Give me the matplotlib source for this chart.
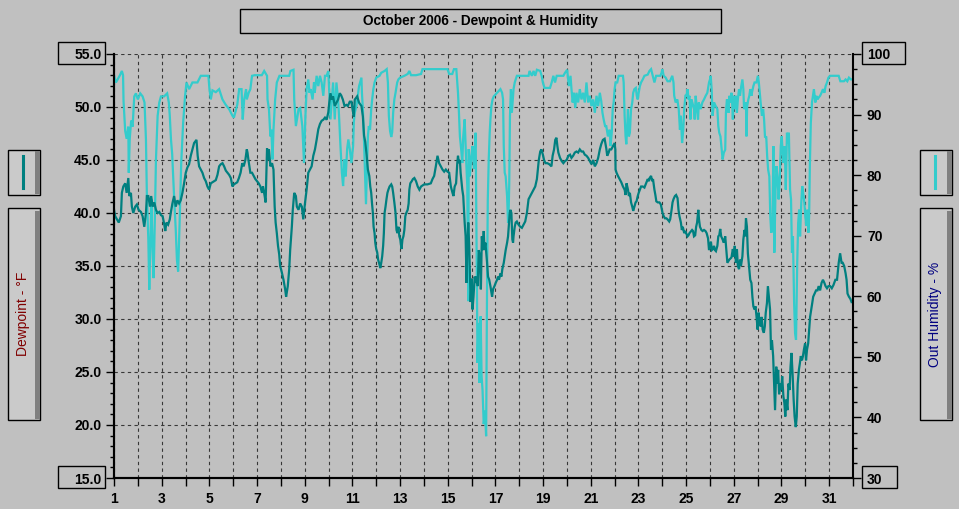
import matplotlib
matplotlib.use("Agg")
import matplotlib.pyplot as plt
from matplotlib.patches import Rectangle
from matplotlib.lines import Line2D
from matplotlib.ticker import MultipleLocator, FormatStrFormatter

W, H = 959, 509
BG = "#c0c0c0"
DEW = "#008080"
HUM = "#33cccc"

# Dewpoint (deg F), x = day of month
dp_day = [
    1.00, 1.05, 1.20, 1.29, 1.33, 1.39, 1.47, 1.53, 1.60, 1.64, 1.71, 1.75, 1.81, 1.89, 1.96,
    2.03, 2.13, 2.20, 2.27, 2.34, 2.38, 2.44, 2.51, 2.56, 2.62, 2.69, 2.76, 2.83, 2.90, 2.97,
    3.04, 3.11, 3.15, 3.20, 3.27, 3.34, 3.38, 3.45, 3.52, 3.59, 3.66, 3.73, 3.80, 3.87, 3.94,
    4.01, 4.08, 4.15, 4.22, 4.29, 4.36, 4.46, 4.51, 4.57, 4.64, 4.71, 4.78, 4.85, 4.92, 4.99,
    5.06, 5.20, 5.27, 5.34, 5.41, 5.48, 5.55, 5.62, 5.69, 5.76, 5.83, 5.90, 5.97,
    6.03, 6.17, 6.24, 6.31, 6.38, 6.44, 6.51, 6.57, 6.60, 6.64, 6.72, 6.79, 6.86, 6.93,
    7.00, 7.07, 7.14, 7.21, 7.25, 7.32, 7.36, 7.42, 7.46, 7.50, 7.56, 7.63, 7.69, 7.74, 7.78,
    7.83, 7.88, 7.93, 7.97, 8.04, 8.11, 8.18, 8.22, 8.29, 8.35, 8.39, 8.46, 8.50, 8.56, 8.63,
    8.67, 8.74, 8.81, 8.88, 8.94, 9.01, 9.08, 9.15, 9.22, 9.29, 9.36, 9.43, 9.50, 9.57, 9.64,
    9.71, 9.78, 9.85, 9.92, 9.99, 10.03, 10.08, 10.14, 10.19, 10.26, 10.33, 10.40, 10.47,
    10.53, 10.60, 10.67, 10.75, 10.81, 10.89, 10.96, 11.00, 11.06, 11.10, 11.20, 11.28, 11.38,
    11.44, 11.49, 11.54, 11.60, 11.65, 11.71, 11.75, 11.79, 11.82, 11.86, 11.89, 11.93, 11.96,
    12.00, 12.04, 12.08, 12.13, 12.17, 12.21, 12.25, 12.29, 12.32, 12.35, 12.39, 12.43, 12.47,
    12.51, 12.56, 12.63, 12.67, 12.71, 12.76, 12.81, 12.85, 12.89, 12.93, 12.97, 13.01, 13.06,
    13.10, 13.14, 13.18, 13.22, 13.26, 13.32, 13.36, 13.39, 13.43, 13.49, 13.54, 13.60, 13.67,
    13.74, 13.81, 13.88, 14.01, 14.15, 14.29, 14.36, 14.43, 14.50, 14.57, 14.64, 14.71, 14.78,
    14.85, 14.92, 14.99, 15.06, 15.13, 15.20, 15.24, 15.29, 15.35, 15.40, 15.43, 15.47, 15.51,
    15.54, 15.61, 15.65, 15.68, 15.71, 15.75, 15.79, 15.82, 15.86, 15.90, 15.96, 16.00, 16.04,
    16.08, 16.13, 16.17, 16.21, 16.26, 16.30, 16.35, 16.39, 16.43, 16.47, 16.51, 16.54, 16.58,
    16.63, 16.65, 16.69, 16.74, 16.79, 16.86, 16.90, 16.96, 17.01, 17.07, 17.11, 17.15, 17.21,
    17.25, 17.29, 17.35, 17.39, 17.43, 17.49, 17.53, 17.57, 17.60, 17.63, 17.67, 17.71, 17.74,
    17.76, 17.81, 17.85, 17.90, 17.97, 18.04, 18.11, 18.18, 18.25, 18.32, 18.39, 18.46, 18.53,
    18.60, 18.67, 18.74, 18.78, 18.82, 18.88, 18.93, 18.99, 19.04, 19.10, 19.18, 19.26, 19.35,
    19.40, 19.46, 19.51, 19.56, 19.60, 19.64, 19.71, 19.78, 19.85, 19.92, 19.99, 20.06, 20.13,
    20.19, 20.26, 20.33, 20.40, 20.47, 20.54, 20.61, 20.68, 20.75, 20.82, 20.89, 20.96, 21.03,
    21.10, 21.17, 21.24, 21.31, 21.38, 21.44, 21.51, 21.58, 21.65, 21.69, 21.75, 21.79, 21.86,
    21.93, 22.00, 22.03, 22.04, 22.08, 22.14, 22.21, 22.28, 22.35, 22.42, 22.46, 22.50, 22.56,
    22.60, 22.64, 22.69, 22.74, 22.78, 22.83, 22.88, 22.92, 22.97, 23.01, 23.06, 23.11, 23.18,
    23.25, 23.32, 23.39, 23.43, 23.47, 23.53, 23.57, 23.61, 23.67, 23.71, 23.75, 23.81, 23.88,
    23.94, 24.01, 24.06, 24.11, 24.17, 24.22, 24.29, 24.33, 24.39, 24.43, 24.47, 24.53, 24.58,
    24.64, 24.68, 24.72, 24.78, 24.82, 24.86, 24.92, 24.96, 25.00, 25.06, 25.10, 25.14, 25.21,
    25.25, 25.29, 25.33, 25.38, 25.42, 25.46, 25.51, 25.54, 25.58, 25.64, 25.69, 25.75, 25.81,
    25.86, 25.92, 25.96, 26.00, 26.04, 26.08, 26.13, 26.17, 26.21, 26.25, 26.31, 26.35, 26.39,
    26.43, 26.47, 26.53, 26.58, 26.64, 26.73, 26.81, 26.90, 26.96, 27.00, 27.04, 27.09, 27.13,
    27.17, 27.22, 27.26, 27.30, 27.36, 27.40, 27.45, 27.48, 27.51, 27.55, 27.59, 27.65, 27.69,
    27.74, 27.78, 27.82, 27.87, 27.91, 27.95, 28.00, 28.04, 28.08, 28.13, 28.17, 28.21, 28.26,
    28.30, 28.34, 28.39, 28.43, 28.47, 28.52, 28.56, 28.60, 28.65, 28.69, 28.73, 28.78, 28.82,
    28.86, 28.90, 28.95, 28.99, 29.03, 29.08, 29.12, 29.16, 29.20, 29.25, 29.29, 29.34, 29.38,
    29.42, 29.47, 29.51, 29.55, 29.60, 29.64, 29.68, 29.73, 29.77, 29.81, 29.86, 29.90, 29.94,
    29.99, 30.03, 30.07, 30.12, 30.16, 30.20, 30.25, 30.29, 30.33, 30.39, 30.45, 30.51, 30.56,
    30.62, 30.68, 30.74, 30.80, 30.85, 30.91, 30.97, 31.04, 31.11, 31.18, 31.26, 31.33, 31.40,
    31.46, 31.52, 31.57, 31.63, 31.69, 31.73, 31.77, 31.83, 31.89, 31.94,
]
dp_val = [
    40.3, 39.7, 39.1, 39.7, 41.9, 42.5, 42.8, 41.9, 43.3, 41.6, 41.9, 40.6, 40.0, 40.6, 40.8,
    40.3, 40.1, 39.7, 38.7, 40.0, 41.6, 41.6, 40.6, 41.6, 40.6, 41.0, 40.3, 40.0, 40.1, 39.8,
    39.7, 38.9, 38.3, 39.1, 38.9, 39.4, 40.0, 40.9, 41.6, 40.6, 41.2, 40.9, 41.2, 41.9, 42.8,
    43.8, 44.3, 44.6, 45.4, 46.0, 46.6, 46.9, 45.4, 44.4, 44.1, 43.8, 43.3, 43.0, 42.5, 42.2,
    42.8, 43.0, 43.1, 43.6, 44.4, 44.6, 44.7, 44.4, 44.0, 43.8, 43.6, 43.3, 42.5,
    42.7, 42.9, 43.3, 43.8, 44.7, 44.4, 45.0, 46.0, 45.7, 45.0, 43.8, 43.8, 43.5, 43.2,
    43.0, 42.8, 42.5, 41.9, 42.5, 41.6, 41.0, 46.1, 45.0, 46.0, 44.4, 44.7, 44.1, 40.6, 39.1,
    38.1, 36.9, 36.1, 35.0, 34.4, 33.7, 32.8, 32.1, 33.1, 34.7, 36.5, 38.7, 40.3, 41.9, 41.6,
    40.6, 40.3, 40.9, 40.6, 39.4, 40.9, 42.2, 43.8, 44.1, 44.4, 45.4, 46.0, 46.9, 47.9, 48.4,
    48.7, 48.8, 49.0, 48.8, 49.5, 50.4, 51.3, 50.7, 51.0, 50.1, 50.4, 50.7, 51.3,
    51.1, 50.7, 50.1, 50.2, 50.1, 50.5, 50.5, 49.9, 49.1, 50.7, 51.0, 50.4, 50.1,
    49.1, 47.3, 46.7, 45.4, 44.1, 43.5, 42.5, 41.9, 41.0, 40.0, 38.7, 38.1, 37.2,
    36.6, 36.3, 35.6, 35.2, 34.8, 35.3, 35.9, 36.9, 38.1, 40.0, 40.6, 41.3, 41.9,
    42.2, 42.5, 42.7, 42.5, 41.9, 41.0, 40.0, 38.4, 38.1, 38.7, 37.8, 37.5, 36.6,
    37.5, 37.8, 38.4, 39.7, 40.0, 40.3, 40.9, 42.2, 42.8, 43.0, 43.2, 43.3, 43.0,
    42.5, 42.2, 42.5, 42.7, 42.7, 42.8, 43.2, 43.5, 44.4, 45.4, 44.7, 44.4, 44.1,
    43.9, 44.1, 43.9, 43.8, 42.5, 41.9, 41.6, 42.5, 42.8, 44.7, 45.4, 44.7, 45.0,
    43.8, 42.2, 41.6, 40.3, 39.1, 37.8, 33.4, 36.6, 39.1, 36.9, 31.6, 33.8, 30.9,
    32.1, 34.0, 33.4, 34.0, 33.1, 36.5, 35.9, 32.8, 37.8, 36.5, 38.3, 36.5, 37.2,
    35.9, 35.3, 34.0, 33.7, 33.1, 32.1, 32.8, 33.1, 33.4, 33.7, 34.0, 33.7, 34.3,
    34.0, 34.7, 35.3, 35.9, 36.5, 37.2, 37.8, 39.1, 40.0, 40.3, 40.0, 37.5, 37.2,
    37.8, 38.7, 39.1, 39.2, 38.9, 38.7, 38.6, 38.9, 39.2, 40.0, 41.3, 41.6, 41.9,
    42.2, 42.5, 43.2, 44.1, 45.0, 45.8, 46.0, 45.5, 45.0, 44.7, 44.7, 44.6, 44.4,
    45.4, 46.0, 46.9, 47.1, 46.3, 45.7, 45.2, 44.9, 44.7, 44.9, 45.0, 45.4, 45.5,
    45.2, 45.4, 45.7, 45.8, 45.7, 46.0, 45.8, 45.8, 45.5, 45.4, 45.2, 44.9, 44.6,
    45.0, 44.4, 44.7, 45.2, 46.0, 46.5, 46.9, 47.0, 46.1, 45.4, 45.7, 46.0, 46.0,
    46.3, 46.6, 46.0, 44.1, 43.8, 43.5, 43.2, 42.9, 42.5, 42.2, 41.7, 42.8, 42.2,
    41.6, 41.9, 41.0, 40.6, 40.2, 40.6, 41.0, 41.1, 41.6, 41.9, 42.2, 42.5, 42.5,
    42.4, 42.8, 43.2, 43.0, 43.3, 43.5, 43.0, 43.2, 42.2, 41.7, 41.1, 41.0, 41.0,
    40.8, 40.0, 39.7, 39.5, 39.5, 39.4, 39.2, 39.4, 40.3, 41.0, 41.3, 41.6, 41.7,
    41.4, 40.3, 39.7, 39.1, 38.4, 38.7, 38.1, 38.3, 38.1, 37.8, 37.9, 38.1, 38.3,
    38.4, 38.3, 37.8, 37.9, 38.7, 39.1, 40.3, 39.4, 38.7, 38.4, 38.3, 38.4, 38.3,
    38.1, 37.6, 36.5, 36.9, 37.3, 36.5, 36.6, 36.9, 36.5, 36.4, 36.9, 37.8, 37.9,
    38.5, 37.8, 37.5, 37.2, 37.8, 35.3, 35.6, 35.8, 36.6, 35.9, 36.9, 35.3, 36.6,
    35.0, 34.7, 35.6, 35.0, 35.9, 37.5, 38.4, 37.8, 39.5, 38.7, 36.2, 34.7, 33.7,
    33.4, 32.1, 31.2, 30.9, 31.2, 30.3, 29.0, 30.6, 29.6, 29.3, 30.2, 29.0, 28.7,
    29.3, 30.6, 31.5, 33.1, 32.1, 30.9, 27.1, 28.0, 26.5, 23.9, 21.4, 25.5, 23.9,
    25.2, 22.9, 23.9, 23.3, 24.6, 22.7, 22.1, 20.8, 22.4, 21.4, 23.9, 23.3, 25.5,
    26.8, 24.6, 22.4, 20.8, 19.8, 20.8, 23.9, 25.2, 25.8, 26.5, 26.1, 26.5, 27.1,
    27.7, 26.1, 27.1, 27.7, 29.0, 30.2, 30.9, 31.5, 32.1, 32.4, 32.7, 32.7, 33.1,
    32.7, 33.4, 33.7, 33.4, 33.1, 32.9, 33.1, 33.1, 32.9, 33.2, 33.7, 33.7, 35.3,
    36.2, 35.3, 35.3, 35.0, 34.3, 33.7, 32.4, 32.1, 31.9, 31.6,
]

# Outside humidity (%)
rh_day = [
    1.00, 1.08, 1.25, 1.33, 1.38, 1.40, 1.47, 1.53, 1.60, 1.62, 1.66, 1.72, 1.78, 1.85, 1.92,
    2.00, 2.10, 2.20, 2.28, 2.34, 2.38, 2.44, 2.48, 2.52, 2.57, 2.61, 2.66, 2.71, 2.76, 2.83,
    2.90, 2.97, 3.10, 3.23, 3.30, 3.34, 3.39, 3.44, 3.52, 3.59, 3.64, 3.69, 3.75, 3.82, 3.90,
    3.98, 4.04, 4.15, 4.29, 4.50, 4.64, 4.85, 4.96, 5.00, 5.06, 5.13, 5.27, 5.41, 5.55, 5.69,
    5.83, 5.97, 6.03, 6.17, 6.25, 6.35, 6.40, 6.46, 6.54, 6.57, 6.65, 6.72, 6.79, 6.90, 7.20,
    7.30, 7.42, 7.44, 7.50, 7.56, 7.60, 7.65, 7.69, 7.76, 7.83, 7.94, 8.10, 8.35, 8.40, 8.53,
    8.56, 8.63, 8.70, 8.74, 8.81, 8.90, 8.97, 9.03, 9.08, 9.15, 9.20, 9.25, 9.33, 9.39, 9.42,
    9.50, 9.57, 9.64, 9.71, 9.78, 9.85, 9.92, 9.99, 10.03, 10.08, 10.14, 10.19, 10.26, 10.33,
    10.40, 10.44, 10.50, 10.56, 10.61, 10.67, 10.72, 10.78, 10.83, 10.89, 10.96, 11.03, 11.06,
    11.10, 11.17, 11.28, 11.38, 11.40, 11.44, 11.49, 11.53, 11.57, 11.61, 11.65, 11.69, 11.74,
    11.79, 11.83, 11.88, 11.93, 12.00, 12.14, 12.21, 12.35, 12.44, 12.49, 12.53, 12.58, 12.63,
    12.67, 12.71, 12.76, 12.81, 12.88, 12.93, 13.00, 13.18, 13.32, 13.39, 13.46, 13.67, 13.88,
    13.94, 14.57, 14.99, 15.06, 15.19, 15.26, 15.36, 15.43, 15.47, 15.51, 15.57, 15.61, 15.65,
    15.71, 15.76, 15.82, 15.86, 15.88, 15.93, 15.99, 16.04, 16.10, 16.17, 16.21, 16.25, 16.29,
    16.33, 16.38, 16.42, 16.46, 16.51, 16.56, 16.61, 16.63, 16.65, 16.68, 16.72, 16.76, 16.79,
    16.83, 16.88, 16.93, 17.07, 17.21, 17.28, 17.32, 17.35, 17.39, 17.43, 17.49, 17.53, 17.56,
    17.58, 17.61, 17.65, 17.69, 17.74, 17.76, 17.81, 17.85, 17.90, 18.18, 18.39, 18.43, 18.53,
    18.60, 18.67, 18.74, 18.88, 18.94, 18.99, 19.06, 19.29, 19.36, 19.43, 19.50, 19.57, 19.85,
    19.92, 20.01, 20.08, 20.15, 20.19, 20.24, 20.29, 20.35, 20.40, 20.47, 20.54, 20.61, 20.68,
    20.75, 20.82, 20.89, 20.96, 21.03, 21.10, 21.17, 21.24, 21.31, 21.38, 21.44, 21.49, 21.54,
    21.60, 21.65, 21.72, 21.79, 21.83, 21.88, 21.92, 21.96, 22.00, 22.04, 22.11, 22.17, 22.28,
    22.35, 22.38, 22.42, 22.46, 22.49, 22.53, 22.56, 22.60, 22.64, 22.69, 22.74, 22.78, 22.83,
    22.89, 22.93, 22.97, 23.01, 23.06, 23.11, 23.18, 23.25, 23.39, 23.46, 23.53, 23.60, 23.67,
    23.74, 23.92, 23.97, 24.00, 24.06, 24.14, 24.22, 24.32, 24.42, 24.47, 24.50, 24.56, 24.63,
    24.69, 24.74, 24.78, 24.83, 24.88, 24.92, 24.97, 25.01, 25.06, 25.10, 25.14, 25.18, 25.22,
    25.26, 25.33, 25.36, 25.40, 25.44, 25.50, 25.53, 25.61, 25.68, 25.75, 25.82, 25.89, 25.96,
    26.00, 26.03, 26.07, 26.11, 26.17, 26.24, 26.31, 26.35, 26.39, 26.44, 26.49, 26.53, 26.58,
    26.64, 26.67, 26.71, 26.75, 26.78, 26.81, 26.86, 26.90, 26.93, 26.96, 27.00, 27.04, 27.09,
    27.13, 27.17, 27.22, 27.26, 27.30, 27.36, 27.40, 27.43, 27.48, 27.51, 27.53, 27.56, 27.61,
    27.65, 27.69, 27.74, 27.76, 27.82, 27.87, 27.95, 28.01, 28.05, 28.10, 28.14, 28.18, 28.23,
    28.27, 28.31, 28.36, 28.40, 28.44, 28.49, 28.53, 28.57, 28.62, 28.66, 28.70, 28.75, 28.79,
    28.83, 28.88, 28.92, 28.97, 29.01, 29.05, 29.09, 29.14, 29.18, 29.23, 29.27, 29.31, 29.36,
    29.40, 29.44, 29.48, 29.53, 29.57, 29.61, 29.66, 29.70, 29.74, 29.78, 29.83, 29.87, 29.91,
    29.96, 30.00, 30.04, 30.09, 30.13, 30.16, 30.19, 30.23, 30.28, 30.32, 30.36, 30.42, 30.46,
    30.51, 30.56, 30.62, 30.68, 30.74, 30.80, 30.85, 30.91, 30.97, 31.04, 31.40, 31.47, 31.62,
    31.69, 31.76, 31.83, 31.91, 31.95,
]
rh_val = [
    96.5, 95.3, 96.5, 97.2, 96.5, 92.2, 87.3, 86.0, 88.0, 80.4, 86.0, 89.0, 88.0, 93.0, 93.5,
    92.5, 93.5, 93.0, 92.0, 85.9, 76.5, 69.4, 61.1, 68.0, 76.0, 69.0, 63.0, 72.0, 82.6, 89.8,
    92.0, 93.0, 93.0, 93.5, 92.0, 89.8, 85.9, 83.5, 76.5, 71.0, 66.0, 64.1, 71.8, 82.0, 88.6,
    93.0, 95.3, 94.2, 95.3, 95.3, 96.4, 96.4, 96.4, 94.4, 92.5, 94.0, 93.7, 94.2, 92.5, 91.6,
    90.9, 89.8, 89.5, 91.6, 94.2, 94.2, 89.2, 92.5, 94.2, 92.5, 93.6, 94.2, 96.4, 96.5, 96.5,
    97.2, 96.4, 92.5, 90.9, 86.4, 87.5, 82.6, 87.5, 92.5, 95.3, 96.4, 96.4, 96.4, 97.2, 97.4,
    92.5, 88.1, 89.8, 90.9, 91.1, 88.1, 82.0, 89.8, 94.2, 95.8, 93.6, 94.2, 92.5, 95.3, 93.6,
    96.4, 94.7, 96.4, 95.3, 93.1, 96.4, 96.4, 97.2, 93.6, 89.2, 92.5, 95.3, 89.2, 95.3,
    92.5, 89.8, 84.8, 80.4, 78.2, 82.6, 79.8, 84.3, 85.9, 84.3, 82.0, 84.8, 88.7,
    90.3, 91.4, 94.7, 96.1, 93.6, 90.9, 85.4, 80.4, 75.2, 81.0, 86.4, 88.1, 87.5,
    90.9, 92.5, 94.2, 95.3, 96.1, 96.4, 96.9, 97.2, 97.5, 95.3, 89.8, 87.3, 86.3,
    87.1, 90.3, 92.5, 93.6, 95.3, 95.8, 96.1, 96.4, 96.7, 97.2, 96.5, 96.5, 96.7,
    97.5, 97.5, 97.5, 96.7, 96.7, 97.5, 97.5, 93.6, 90.3, 86.4, 84.0, 82.0, 86.4,
    89.2, 83.7, 78.2, 59.2, 84.3, 79.8, 83.2, 84.8, 81.0, 87.0, 67.7, 49.0, 55.6,
    45.7, 56.7, 46.8, 44.5, 38.9, 41.1, 36.9, 50.0, 62.2, 76.0, 82.6, 87.0, 89.2,
    91.4, 92.5, 93.0, 93.6, 94.2, 93.6, 92.5, 84.8, 80.4, 79.8, 76.5, 72.1, 74.9,
    78.7, 89.8, 94.2, 90.3, 93.0, 94.2, 95.3, 95.8, 96.4, 96.4, 96.4, 97.2, 96.4,
    97.2, 96.4, 97.4, 97.2, 96.4, 95.3, 94.4, 94.4, 95.3, 96.4, 95.3, 96.4, 96.4,
    96.9, 97.4, 94.7, 96.4, 94.2, 92.0, 93.6, 91.1, 93.6, 92.0, 94.2, 92.5, 93.6,
    92.0, 95.3, 92.0, 93.1, 91.4, 92.5, 90.3, 93.1, 91.4, 93.6, 92.2, 90.3, 89.2,
    88.1, 88.1, 86.4, 87.5, 84.8, 87.0, 90.9, 92.0, 94.2, 95.3, 95.3, 96.4, 96.4,
    96.4, 95.3, 89.8, 86.4, 85.1, 88.1, 90.9, 86.4, 87.0, 90.9, 92.0, 93.6, 94.2,
    94.4, 93.1, 92.5, 93.6, 94.7, 95.3, 95.8, 96.4, 96.6, 97.2, 97.5, 96.4, 95.3,
    96.4, 96.4, 96.9, 97.5, 96.4, 96.1, 95.5, 95.5, 96.4, 95.3, 93.1, 92.0, 92.5,
    90.9, 87.5, 89.8, 85.3, 87.5, 90.9, 93.1, 93.1, 94.2, 92.5, 93.1, 89.2, 92.5,
    92.0, 90.9, 89.2, 93.1, 91.4, 89.2, 92.0, 90.9, 92.0, 92.5, 93.1, 93.6, 95.3,
    95.8, 96.4, 94.2, 89.8, 92.0, 91.4, 90.9, 88.1, 87.0, 86.4, 84.2, 82.6, 83.7,
    84.2, 90.3, 92.5, 92.0, 90.3, 93.1, 92.0, 93.6, 92.0, 89.2, 93.1, 90.9, 93.1,
    90.3, 92.5, 94.2, 93.1, 94.4, 95.8, 94.2, 90.9, 91.4, 92.0, 86.4, 91.4, 92.5,
    93.1, 94.2, 93.1, 93.6, 94.7, 95.3, 95.3, 96.4, 95.3, 93.1, 91.4, 89.8, 90.9,
    89.2, 86.2, 86.4, 83.1, 80.9, 79.8, 73.2, 70.5, 71.0, 84.8, 67.2, 77.6, 81.5,
    79.8, 76.0, 78.7, 84.8, 86.4, 83.7, 82.0, 84.8, 77.6, 87.0, 85.3, 87.0, 77.6,
    76.0, 67.2, 69.9, 58.9, 53.9, 52.8, 65.5, 72.1, 74.3, 69.9, 75.4, 78.2, 77.1,
    75.4, 73.2, 71.6, 74.3, 70.5, 73.2, 81.5, 88.6, 92.0, 93.1, 94.2, 92.0, 93.1,
    92.5, 92.8, 93.1, 93.6, 94.2, 93.6, 94.7, 95.3, 96.1, 96.4, 96.4, 95.5, 95.5,
    95.8, 95.5, 96.1, 95.8, 95.8,
]

day_ticks = list(range(1, 33))
day_labels = [str(d) if d % 2 else "" for d in day_ticks]

plt.rcParams["font.family"] = ["Liberation Sans", "DejaVu Sans"]


def fx(x):
    return x / W


def fy(y):
    return 1 - y / H


def box(x0, y0, x1, y1, fc="none", lw=1.0):
    fig.add_artist(Rectangle((fx(x0), fy(y1)), (x1 - x0) / W, (y1 - y0) / H,
                             transform=fig.transFigure, facecolor=fc,
                             edgecolor="black", linewidth=lw))


fig = plt.figure(figsize=(W / 100, H / 100), dpi=100, facecolor=BG)
ax = fig.add_axes([fx(114), fy(478), (853 - 114) / W, (478 - 54) / H])
ax.set_facecolor(BG)
ax.set_xlim(1, 32)
ax.set_ylim(15, 55)
ax.set_xticks(day_ticks)
ax.set_xticklabels(day_labels)
ax.yaxis.set_major_locator(MultipleLocator(5))
ax.yaxis.set_minor_locator(MultipleLocator(1))
ax.yaxis.set_major_formatter(FormatStrFormatter("%.1f"))
ax.grid(True, which="major", linestyle=(0, (3, 3)), color="#383838", linewidth=0.8)

ax2 = ax.twinx()
ax2.set_ylim(30, 100)
ax2.yaxis.set_major_locator(MultipleLocator(10))
ax2.yaxis.set_minor_locator(MultipleLocator(2.5))

ax2.plot(rh_day, rh_val, color=HUM, linewidth=1.6, solid_joinstyle="miter")
ax2.plot(dp_day, dp_val, color=DEW, linewidth=1.6, solid_joinstyle="miter",
         transform=ax.transData)
ax2.set_ylim(30, 100)
ax.set_xlim(1, 32)

for a in (ax, ax2):
    a.spines["top"].set_visible(False)
    for s in ("left", "right", "bottom"):
        a.spines[s].set_linewidth(1.5)
ax.spines["right"].set_visible(False)

tick_font = dict(labelsize=10)
ax.tick_params(axis="y", which="major", direction="out", length=6, width=1, pad=3, **tick_font)
ax.tick_params(axis="y", which="minor", direction="out", length=3, width=1)
ax.tick_params(axis="x", which="major", direction="out", length=6, width=1, pad=4, **tick_font)
ax2.tick_params(axis="y", which="major", direction="out", length=6, width=1, pad=4, **tick_font)
ax2.tick_params(axis="y", which="minor", direction="out", length=3, width=1)
for lab in ax.get_xticklabels() + ax.get_yticklabels() + ax2.get_yticklabels():
    lab.set_fontweight("bold")

# boxes around the end labels of both value axes
box(58, 42, 105, 64)
box(58, 466, 105, 488)
box(862, 42, 905, 64)
box(862, 466, 897, 488)

# title
box(240, 9, 721, 33)
fig.text(fx(480.5), fy(21), "October 2006 - Dewpoint & Humidity", ha="center", va="center",
         fontsize=9.8, fontweight="bold")

# side panels: line key and axis caption
for x0, col, caption, tcol in ((8, DEW, "Dewpoint - °F", "#800000"),
                               (920, HUM, "Out Humidity - %", "#000080")):
    box(x0, 150, x0 + 32, 195, fc="#cacaca")
    box(x0, 208, x0 + 32, 420, fc="#cacaca")
    for y0, y1 in ((151, 194), (211, 419)):
        fig.add_artist(Rectangle((fx(x0 + 27), fy(y1)), 4.5 / W, (y1 - y0) / H,
                                 transform=fig.transFigure, facecolor="#808080",
                                 edgecolor="none"))
    fig.add_artist(Line2D([fx(x0 + 15), fx(x0 + 15)], [fy(156), fy(188)],
                          transform=fig.transFigure, color=col, linewidth=2.2))
    fig.text(fx(x0 + 15), fy(314), caption, rotation=90, ha="center", va="center",
             fontsize=10, color=tcol)

fig.savefig("out.png", dpi=100, facecolor=BG)
